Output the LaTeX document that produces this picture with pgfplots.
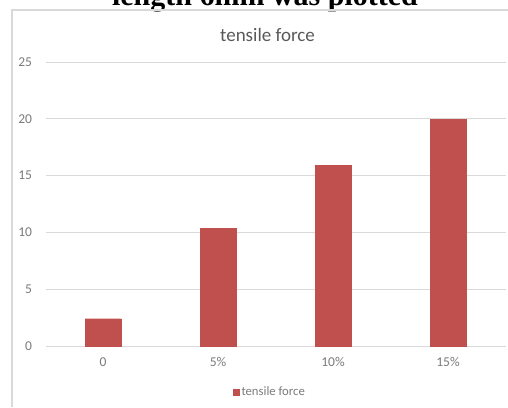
\documentclass[border=0pt]{standalone}
\usepackage{pgfplots}
\pgfplotsset{compat=1.18}
\usepackage{fontspec}
\setmainfont{Carlito}
\newfontfamily\headfont{Liberation Serif}
\definecolor{barred}{HTML}{C0504D}
\definecolor{gridgray}{HTML}{D9D9D9}
\definecolor{txtgray}{HTML}{7A7A7A}
\definecolor{titlegray}{HTML}{595959}
\begin{document}
\begin{tikzpicture}[x=1pt,y=1pt]
\useasboundingbox (0,0) rectangle (508,407);
\begin{scope}
\clip (0,0) rectangle (508,407);
\node[anchor=base, inner sep=0pt, font=\headfont\bfseries\fontsize{30}{36}\selectfont] at (265,401) {length 6mm was plotted};
\end{scope}
\draw[gridgray, line width=1.2pt] (12,0) -- (12,397) -- (508,397);
\node[anchor=base, inner sep=0pt, text=titlegray, font=\fontsize{19}{23}\selectfont] at (267.5,365) {tensile force};
\begin{axis}[
  at={(45.5pt,61pt)}, anchor=south west,
  width=460pt, height=284pt, scale only axis,
  xmin=-0.5, xmax=3.5, ymin=0, ymax=25,
  ytick={0,5,10,15,20,25},
  xtick={0,1,2,3},
  xticklabels={0,5\%,10\%,15\%},
  /pgf/number format/assume math mode=true,
  major tick length=0pt,
  axis x line*=bottom,
  axis y line*=left,
  y axis line style={draw=none},
  x axis line style={gridgray, line width=1pt, -},
  ymajorgrids,
  grid style={gridgray, line width=0.8pt},
  ticklabel style={text=txtgray, font=\fontsize{13.5}{16}\selectfont},
  yticklabel style={xshift=-10pt},
  xticklabel style={yshift=-8pt},
  ybar, bar width=36pt,
  legend style={at={(0.488,-0.162)}, anchor=center, draw=none, fill=none,
    font=\fontsize{12.7}{15}\selectfont, text=txtgray, inner sep=0pt,
    legend cell align=left},
  legend image code/.code={\fill[barred] (0pt,-3pt) rectangle (6pt,3pt);},
  clip=false,
]
\addplot[fill=barred, draw=barred] coordinates {(0,2.4) (1,10.35) (2,15.9) (3,19.95)};
\addlegendentry{tensile force}
\end{axis}
\end{tikzpicture}
\end{document}
